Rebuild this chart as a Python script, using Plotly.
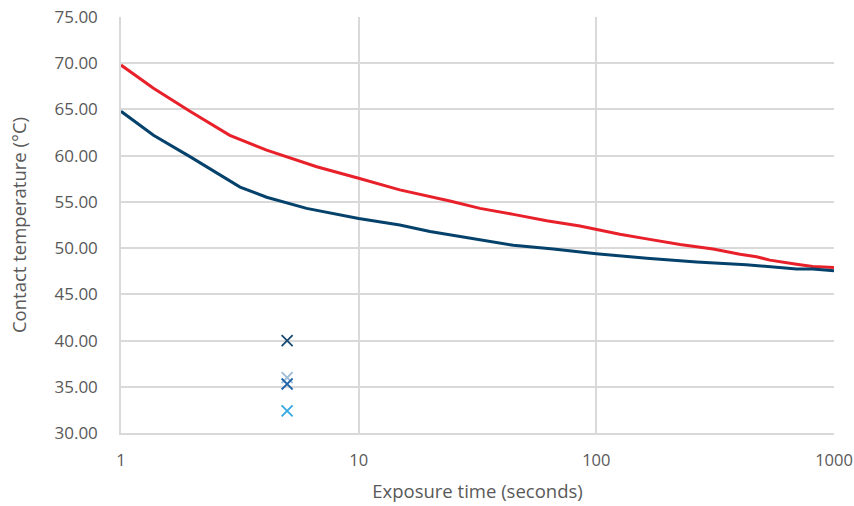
import plotly.graph_objects as go

# Red curve (upper)
red_x = [1, 1.37, 1.95, 2.87, 4.1, 6.66, 10, 12.3, 14.9, 24.2, 32.4, 44.8, 61.8, 85.3, 100, 125.6, 163, 225, 310, 402, 472, 537, 696, 813, 1000]
red_y = [69.8, 67.3, 64.8, 62.2, 60.6, 58.8, 57.55, 56.9, 56.3, 55.1, 54.3, 53.65, 52.96, 52.4, 52.0, 51.5, 51.0, 50.4, 49.9, 49.33, 49.07, 48.7, 48.25, 48.0, 47.9]

# Navy curve (lower)
navy_x = [1, 1.37, 1.95, 2.87, 3.17, 4.1, 6.04, 10, 12.3, 14.9, 19.95, 30.4, 44.8, 65.9, 100, 163, 264, 427, 696, 813, 1000]
navy_y = [64.8, 62.2, 59.9, 57.2, 56.6, 55.5, 54.3, 53.2, 52.8, 52.5, 51.8, 51.0, 50.3, 49.9, 49.4, 48.9, 48.5, 48.2, 47.75, 47.75, 47.55]

# Individual measurements at 5 s
pt_x = [5, 5, 5, 5]
pt_y = [40.0, 36.0, 35.3, 32.4]
pt_colors = ["#1b4b72", "#9dbcd8", "#2266a8", "#34a9e1"]

fig = go.Figure()
fig.add_trace(go.Scatter(x=red_x, y=red_y, mode="lines",
                         line=dict(color="#e8202a", width=3), showlegend=False))
fig.add_trace(go.Scatter(x=navy_x, y=navy_y, mode="lines",
                         line=dict(color="#05426b", width=3), showlegend=False))
for xv, yv, c in zip(pt_x, pt_y, pt_colors):
    fig.add_trace(go.Scatter(x=[xv], y=[yv], mode="markers",
                             marker=dict(symbol="x-thin", size=11, line=dict(color=c, width=1.8)),
                             showlegend=False))

font_family = "Open Sans, Noto Sans, sans-serif"
fig.update_layout(
    width=854, height=506,
    margin=dict(l=121, r=20, t=17, b=73, autoexpand=False),
    plot_bgcolor="white", paper_bgcolor="white",
    font=dict(family=font_family, color="#595959", size=16),
    xaxis=dict(type="log", range=[0, 3], tickvals=[1, 10, 100, 1000],
               ticktext=["1", "10", "100", "1000"], automargin=False,
               showgrid=True, gridcolor="#d9d9d9", gridwidth=1.5,
               showline=True, linecolor="#d9d9d9", linewidth=1.5,
               zeroline=False, ticks="", ticklabelstandoff=11,
               tickfont=dict(size=16.5, color="#595959"),
               title=dict(text="Exposure time (seconds)", font=dict(size=18.5, color="#595959"), standoff=16)),
    yaxis=dict(range=[30, 75], dtick=5, tickformat=".2f", automargin=False,
               showgrid=True, gridcolor="#d9d9d9", gridwidth=1.5,
               showline=True, linecolor="#d9d9d9", linewidth=1.5,
               zeroline=False, ticks="", ticklabelstandoff=18,
               tickfont=dict(size=17, color="#595959"),
               title=dict(text="Contact temperature (°C)", font=dict(size=18.5, color="#595959"), standoff=23)),
)
fig.write_html("out.html", config={"displayModeBar": False},
               post_script="document.body.style.margin='0';document.body.style.overflow='hidden';")
